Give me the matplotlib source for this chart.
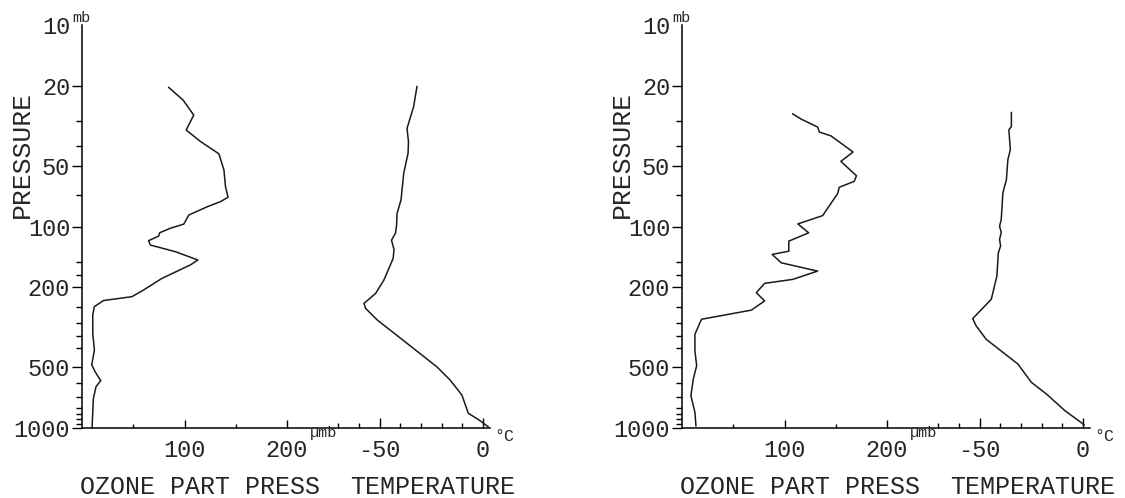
import matplotlib
matplotlib.use("Agg")
import matplotlib.pyplot as plt
from matplotlib.ticker import NullFormatter

plt.rcParams['font.family'] = ['Liberation Mono', 'DejaVu Sans']
plt.rcParams['text.color'] = '#262626'
plt.rcParams['xtick.labelcolor'] = '#262626'
plt.rcParams['ytick.labelcolor'] = '#262626'

# ===== data =====
# left sounding
left_oz_p = [20.4, 23.6, 28, 33.2, 37.9, 43.6, 52.5, 63.4, 71.6, 75.3, 79.8, 87.7,
             97.3, 102, 107.4, 111.5, 117.6, 123.6, 133.4, 146.6, 155, 180.8, 206.6,
             223, 233, 250, 275, 339, 410, 486, 525, 582, 623, 713, 1000]
left_oz = [84.6, 98.7, 109, 101.6, 115.7, 133.6, 138.5, 140, 142.5, 135, 122.2, 104.2,
           99.3, 86.3, 75.8, 74.8, 65, 66.7, 91.2, 113, 105.9, 78.1, 60.1,
           48.7, 21, 12, 10.5, 10.5, 12.1, 9.5, 12.7, 18.3, 13.7, 11.1, 9.8]
left_t_p = [20.2, 25.4, 32.6, 38, 43.3, 54.4, 73.8, 86, 100, 108, 117, 130, 144, 184.6,
            215, 240.7, 255, 291, 380, 497, 578, 686, 845, 920, 986]
left_t = [-31.9, -33.5, -36.7, -36.0, -36.2, -38.3, -39.6, -41.5, -41.8, -42.3, -44.2,
          -43.0, -43.4, -47.9, -51.9, -57.5, -56.7, -51.1, -36.7, -22.3, -15.9, -10.2,
          -7.1, -1.4, 2.5]

# right sounding
right_oz_p = [27.6, 29.3, 32.1, 34, 35.5, 42.7, 47.5, 56, 59.7, 63.9, 68.7, 88.3, 97.1,
              107.5, 118.2, 132.6, 137.6, 151.4, 166.5, 183, 191.5, 213, 234, 260,
              288.6, 300, 343, 414, 491, 572, 692, 836, 975]
right_oz = [108, 116.2, 132.3, 134, 145.3, 166.9, 155, 170.2, 168, 153.4, 151.8, 137.2,
            113, 123.6, 104.2, 104.2, 88, 96.8, 132.3, 108, 80.6, 72.5, 80.6, 67.7,
            19.1, 17.5, 12.6, 12.6, 14.3, 11, 8.7, 12.6, 13.6]
right_t_p = [27.2, 31.9, 33.1, 41.6, 46.6, 58.5, 68, 92.3, 99.6, 107, 115.9, 125, 135,
             176, 229.7, 286.5, 311.5, 362.6, 482, 594, 679, 821, 944, 966]
right_t = [-34.6, -34.6, -35.8, -35.1, -36.3, -37, -38.7, -39.5, -40.3, -39.5, -40.3,
           -39.8, -40.9, -41.6, -44.3, -53.3, -51.6, -46.8, -31.4, -24.9, -17.6, -8.7,
           -0.6, 0.5]

# axis ticks
p_major = [10, 20, 50, 100, 200, 500, 1000]
p_labels = ['10', '20', '50', '100', '200', '500', '1000']
p_minor = [30, 40, 70, 150, 175, 250, 300, 350, 400, 600, 700, 800, 850, 900, 950]
oz_major = [100, 200]
oz_minor = [50, 150]
t_major = [-50, 0]
t_minor = [-70, -60, -40, -30, -20, -10]

# ===== layout (pixels) =====
W, H = 1125, 498
ax_w = 408
px_per_oz = 1.025
zero_c_px = 401
px_per_c = 2.07
y_top, y_bot = 25, 428


def make_panel(fig, left_px, oz_p, oz, t_p, t):
    ax = fig.add_axes([left_px / W, (H - y_bot) / H, ax_w / W, (y_bot - y_top) / H])
    ax.set_yscale('log')
    ax.set_ylim(1000, 10)
    ax.set_xlim(0, ax_w / px_per_oz)
    for s in ['top', 'right']:
        ax.spines[s].set_visible(False)
    for s in ['left', 'bottom']:
        ax.spines[s].set_linewidth(1.1)

    ax.set_yticks(p_major)
    ax.set_yticklabels(p_labels)
    ax.set_yticks(p_minor, minor=True)
    ax.yaxis.set_minor_formatter(NullFormatter())
    ax.tick_params(axis='y', which='major', direction='out', length=7, width=1,
                   pad=1.5, labelsize=17)
    ax.tick_params(axis='y', which='minor', direction='out', length=4.5, width=1)
    ax.yaxis.get_major_ticks()[0].tick1line.set_visible(False)

    ax.set_xticks(oz_major)
    ax.set_xticklabels([str(v) for v in oz_major])
    ax.set_xticks(oz_minor, minor=True)
    ax.tick_params(axis='x', which='major', direction='in', length=6, width=1,
                   pad=8, labelsize=17)
    ax.tick_params(axis='x', which='minor', direction='in', length=3, width=1)

    ax.plot(oz, oz_p, color='#1a1a1a', lw=1.1, clip_on=False)

    # temperature scale shares the bottom line
    tw = ax.twiny()
    tw.set_xlim(-zero_c_px / px_per_c, (ax_w - zero_c_px) / px_per_c)
    tw.xaxis.set_ticks_position('bottom')
    tw.xaxis.set_label_position('bottom')
    for s in tw.spines.values():
        s.set_visible(False)
    tw.set_xticks(t_major)
    tw.set_xticklabels([str(v) for v in t_major])
    tw.set_xticks(t_minor, minor=True)
    tw.tick_params(axis='x', which='major', direction='in', length=7, width=1,
                   pad=8, labelsize=17)
    tw.tick_params(axis='x', which='minor', direction='in', length=3.5, width=1)
    tw.plot(t, t_p, color='#1a1a1a', lw=1.1, clip_on=False)
    return ax


fig = plt.figure(figsize=(W / 100, H / 100), dpi=100)

make_panel(fig, 82, left_oz_p, left_oz, left_t_p, left_t)
make_panel(fig, 682, right_oz_p, right_oz, right_t_p, right_t)

# labels and unit marks, per panel
for dx in (0, 600):
    fig.text((22 + dx) / W, 1 - 154 / H, 'PRESSURE', rotation=90,
             ha='center', va='center', fontsize=19)
    fig.text((80 + dx) / W, 1 - 487 / H, 'OZONE PART PRESS',
             ha='left', va='center', fontsize=18)
    fig.text((515 + dx) / W, 1 - 487 / H, 'TEMPERATURE',
             ha='right', va='center', fontsize=18)
    fig.text((72 + dx) / W, 1 - 18 / H, 'mb', ha='left', va='center', fontsize=11)
    fig.text((310 + dx) / W, 1 - 433 / H, 'µmb', ha='left', va='center', fontsize=11)
    fig.text((494 + dx) / W, 1 - 436 / H, '°C', ha='left', va='center', fontsize=12)

fig.savefig('out.png', dpi=100)
